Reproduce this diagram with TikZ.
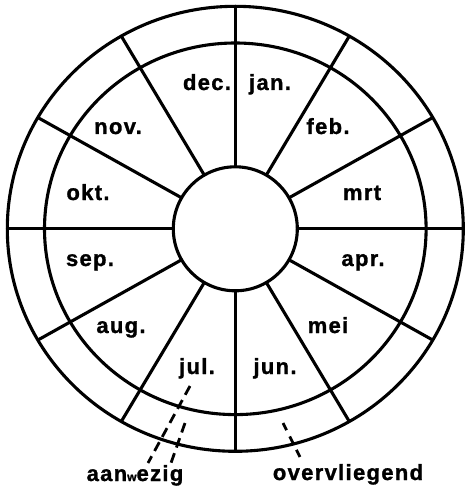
\documentclass[tikz,border=0pt]{standalone}
\usepackage{fontspec}
\setmainfont{Liberation Sans}
\newfontfamily\lblfont[LetterSpace=6,FakeBold=1.2]{Liberation Sans Bold}
\usetikzlibrary{calc}
\tikzset{
  ring/.style={line width=3.1pt},
  spoke/.style={line width=3.1pt},
  month/.style={font=\lblfont\fontsize{22}{22}\selectfont, anchor=base, inner sep=0pt},
  legend/.style={font=\lblfont\fontsize{22}{22}\selectfont, anchor=base, inner sep=0pt},
  pointer/.style={line width=2.8pt, dash pattern=on 10pt off 6pt}
}
\begin{document}
\begin{tikzpicture}[x=1pt,y=-1pt]
\useasboundingbox (0,0) rectangle (465,489);
\coordinate (c) at (235.3,228.8);
% rings
\draw[ring] (c) ellipse [x radius=228pt, y radius=222.5pt];
\draw[ring] (c) ellipse [x radius=190.8pt, y radius=185.8pt];
\draw[ring] (c) circle [radius=62pt];
% spokes
\foreach \a in {0,30,...,330}{
  \draw[spoke] ($(c)+({61*cos(\a)},{-61*sin(\a)})$) -- ($(c)+({228*cos(\a)},{-222.5*sin(\a)})$);
}
% months
\node[month] (dec) at (207,90) {dec.};
\node[month] (jan) at (270,90) {jan.};
\node[month] (nov) at (118,134) {nov.};
\node[month] (feb) at (328,134) {feb.};
\node[month] (okt) at (88,200) {okt.};
\node[month] (mrt) at (362,200) {mrt};
\node[month] (sep) at (90,266) {sep.};
\node[month] (apr) at (363,266) {apr.};
\node[month] (aug) at (121,333) {aug.};
\node[month] (mei) at (328,333) {mei};
\node[month] (jul) at (197,374) {jul.};
\node[month] (jun) at (275,374) {jun.};
% legend
\node[legend] (aanwezig) at (135,481) {aan{\fontsize{12}{12}\selectfont w}ezig};
\node[legend] (overvliegend) at (348,480) {overvliegend};
% pointers
\coordinate (a1s) at (190,386);
\coordinate (a1e) at (148,463);
\coordinate (a2s) at (185,423);
\coordinate (a2e) at (171,463);
\coordinate (o1s) at (283,423);
\coordinate (o1e) at (303,463);
\draw[pointer] (a1s) -- (a1e);
\draw[pointer] (a2s) -- (a2e);
\draw[pointer, dash pattern=on 8pt off 7pt] (o1s) -- (o1e);
\end{tikzpicture}
\end{document}
